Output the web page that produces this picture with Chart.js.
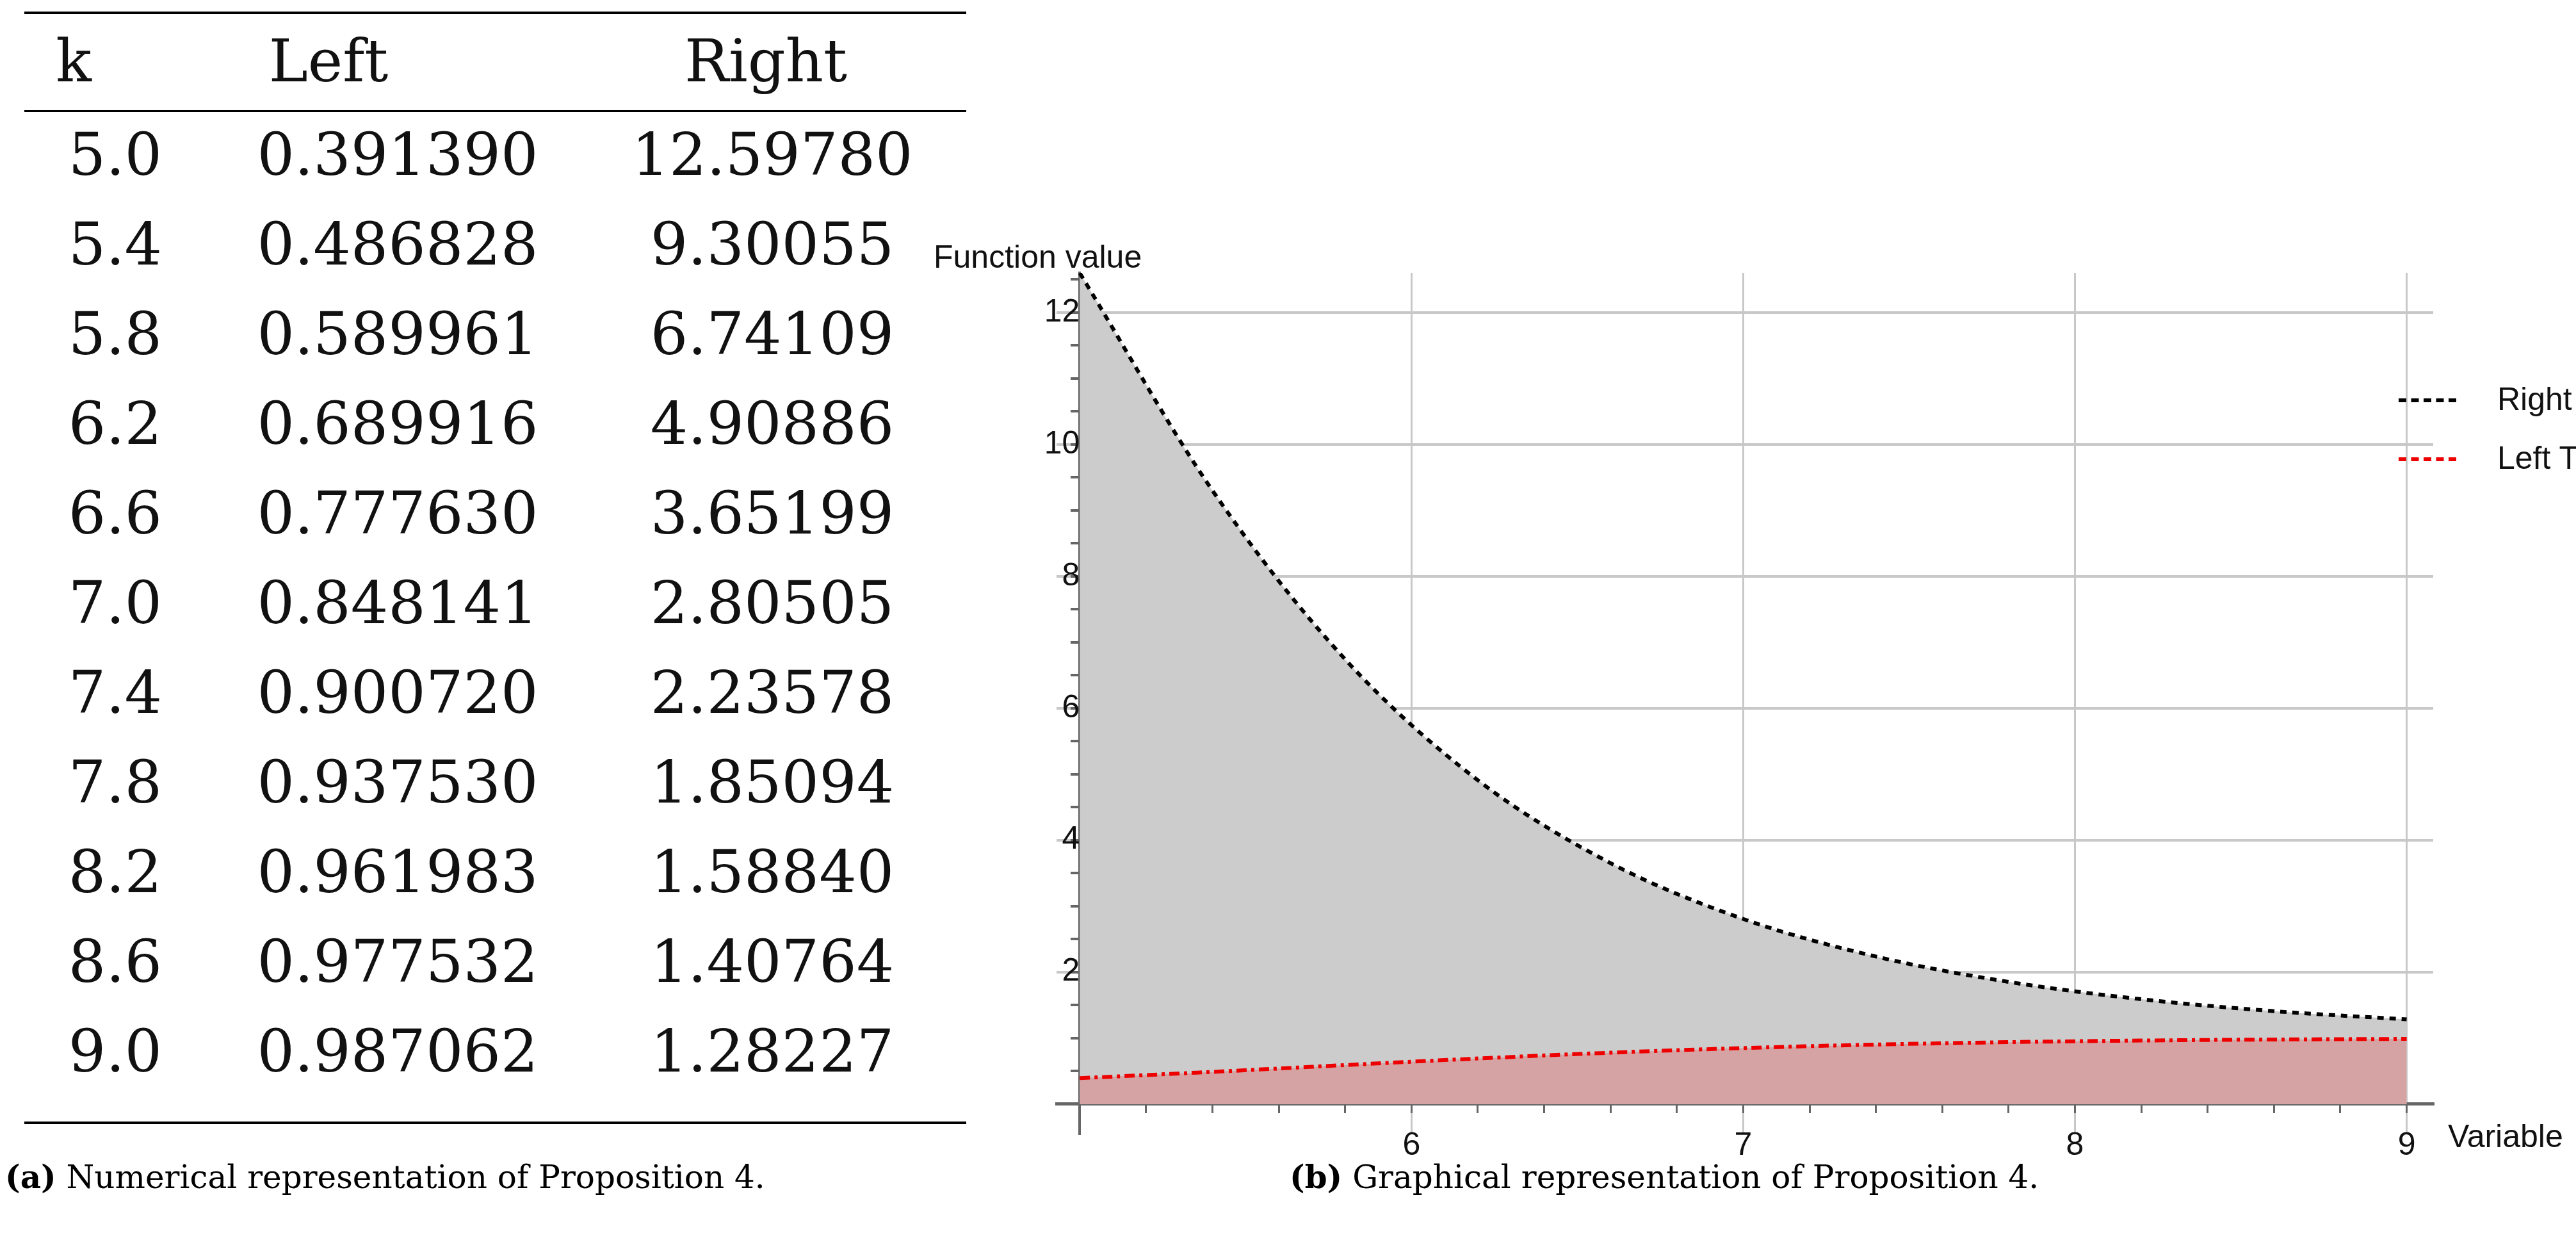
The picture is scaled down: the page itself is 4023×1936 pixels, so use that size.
<!DOCTYPE html>
<html>
<head>
<meta charset="utf-8">
<script src="https://cdn.jsdelivr.net/npm/chart.js@4"></script>
<style>
  html, body { margin: 0; padding: 0; background: #fff; }
  #wrap { position: relative; width: 4023px; height: 1936px; overflow: hidden; }
  #chart { position: absolute; left: 0; top: 0; }
  .rule { position: absolute; left: 38px; width: 1471px; background: #000; }
  .cell { position: absolute; font-family: "DejaVu Serif", serif; font-size: 92px; color: #111; transform: translateX(-50%); white-space: nowrap; }
  .cap { position: absolute; font-family: "DejaVu Serif", serif; font-size: 50px; color: #000; white-space: nowrap; }
  .lbl { position: absolute; font-family: "Liberation Sans", Arial, sans-serif; font-size: 50px; color: #111; white-space: nowrap; }
  .key { position: absolute; width: 90px; height: 0; }
</style>
</head>
<body>
<div id="wrap">
  <canvas id="chart" width="4023" height="1936"></canvas>
  <div class="rule" style="top:18px;height:4px"></div>
  <div class="rule" style="top:172px;height:3px"></div>
  <div class="rule" style="top:1751px;height:4px"></div>
  <div class="cap" style="left:8px;top:1808px"><b>(a)</b> Numerical representation of Proposition 4.</div>
  <div class="cap" style="left:2014px;top:1808px"><b>(b)</b> Graphical representation of Proposition 4.</div>
  <div class="lbl" style="left:1458px;top:372px">Function value</div>
  <div class="lbl" style="left:3823px;top:1745px">Variable</div>
  <div class="key" style="left:3746px;top:622px;border-top:6px dashed #000"></div>
  <div class="lbl" style="left:3900px;top:594px">Right Term</div>
  <div class="key" style="left:3746px;top:714px;border-top:6px dashed #e00"></div>
  <div class="lbl" style="left:3900px;top:686px">Left Term</div>
</div>
<script>
// ── DATA ──
const kValues    = [5.0, 5.4, 5.8, 6.2, 6.6, 7.0, 7.4, 7.8, 8.2, 8.6, 9.0];
const leftValues = [0.391390, 0.486828, 0.589961, 0.689916, 0.777630, 0.848141, 0.900720, 0.937530, 0.961983, 0.977532, 0.987062];
const rightValues = [12.59780, 9.30055, 6.74109, 4.90886, 3.65199, 2.80505, 2.23578, 1.85094, 1.58840, 1.40764, 1.28227];
const kLabels     = ['5.0','5.4','5.8','6.2','6.6','7.0','7.4','7.8','8.2','8.6','9.0'];
const leftLabels  = ['0.391390','0.486828','0.589961','0.689916','0.777630','0.848141','0.900720','0.937530','0.961983','0.977532','0.987062'];
const rightLabels = ['12.59780','9.30055','6.74109','4.90886','3.65199','2.80505','2.23578','1.85094','1.58840','1.40764','1.28227'];
const headers = ['k', 'Left', 'Right'];

// ── TABLE ──
const wrap = document.getElementById('wrap');
const headCenters = [115, 513, 1196];
const colCenters  = [180, 621, 1206];
function addCell(text, x, y) {
    const el = document.createElement('div');
    el.className = 'cell';
    el.style.left = x + 'px';
    el.style.top = y + 'px';
    el.textContent = text;
    wrap.appendChild(el);
}
headers.forEach((h, i) => addCell(h, headCenters[i], 42));
kLabels.forEach((k, r) => {
    const y = 188 + r * 140;
    addCell(k, colCenters[0], y);
    addCell(leftLabels[r], colCenters[1], y);
    addCell(rightLabels[r], colCenters[2], y);
});

// ── CHART ──
const isInt = v => Math.abs(v - Math.round(v)) < 1e-6;

new Chart(document.getElementById('chart'), {
    type: 'line',
    data: {
        datasets: [{
            label: 'Left Term',
            data: kValues.map((k, i) => ({ x: k, y: leftValues[i] })),
            borderColor: '#ee0000',
            borderWidth: 6,
            borderDash: [16, 7, 5, 7],
            backgroundColor: '#d5a3a3',
            fill: 'origin',
            pointRadius: 0,
            cubicInterpolationMode: 'monotone',
        }, {
            label: 'Right Term',
            data: kValues.map((k, i) => ({ x: k, y: rightValues[i] })),
            borderColor: '#000',
            borderWidth: 6,
            borderDash: [10, 9],
            backgroundColor: '#cccccc',
            fill: 'origin',
            pointRadius: 0,
            cubicInterpolationMode: 'monotone',
        }]
    },
    options: {
        responsive: false,
        animation: false,
        layout: { padding: { left: 1650, right: 223, top: 426, bottom: 166 } },
        plugins: { legend: { display: false }, tooltip: { enabled: false } },
        scales: {
            x: {
                type: 'linear',
                min: 4.93, max: 9.08,
                position: { y: 0 },
                afterBuildTicks: s => {
                    const t = [];
                    for (let i = 0; i <= 20; i++) t.push({ value: +(5 + i * 0.2).toFixed(1) });
                    s.ticks = t;
                },
                ticks: {
                    autoSkip: false, maxRotation: 0,
                    color: '#111', padding: 24,
                    font: { family: 'Liberation Sans', size: 50 },
                    callback: v => (isInt(v) && v > 5) ? String(v) : ''
                },
                grid: {
                    color: c => (isInt(c.tick.value) && c.tick.value > 5) ? '#c8c8c8' : 'rgba(0,0,0,0)',
                    tickColor: '#666',
                    tickLength: 12,
                    lineWidth: 3,
                },
                border: { color: '#666', width: 5 }
            },
            y: {
                type: 'linear',
                min: -0.45, max: 12.6,
                position: { x: 5 },
                afterBuildTicks: s => {
                    const t = [];
                    for (let i = 0; i <= 25; i++) t.push({ value: i * 0.5 });
                    s.ticks = t;
                },
                ticks: {
                    autoSkip: false,
                    color: '#111', padding: 12,
                    font: { family: 'Liberation Sans', size: 50 },
                    callback: v => (v > 0 && isInt(v) && v % 2 === 0) ? String(v) : ''
                },
                grid: {
                    color: c => (c.tick.value > 0 && isInt(c.tick.value) && c.tick.value % 2 === 0) ? '#c8c8c8' : 'rgba(0,0,0,0)',
                    tickColor: '#666',
                    tickLength: 12,
                    lineWidth: 4,
                },
                border: { color: '#666', width: 4 }
            }
        }
    }
});
</script>
</body>
</html>
